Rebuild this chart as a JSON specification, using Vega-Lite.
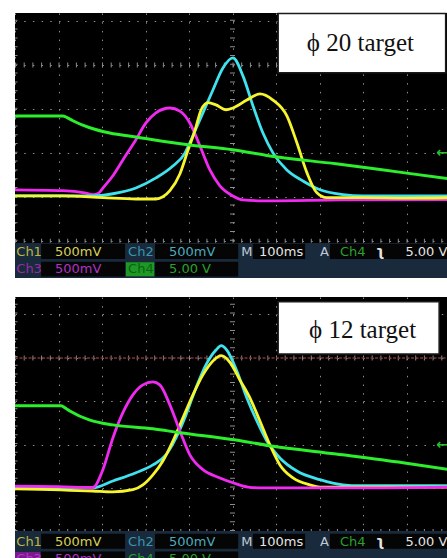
{
"$schema":"https://vega.github.io/schema/vega-lite/v6.json",
"background":"#ffffff",
"padding":{"left":12,"top":10,"right":0,"bottom":0},
"config":{"view":{"stroke":null},"axis":{"labels":false,"ticks":false,"domain":false,"grid":true,"gridColor":"#8c8c8c","gridDash":[1.5,7.2],"gridWidth":1,"minExtent":0,"maxExtent":0,"titlePadding":0}},
"datasets":{
"traces":[
{"panel":"top","ch":"Ch1","t":-500,"v":-2.98},{"panel":"top","ch":"Ch1","t":-390,"v":-2.98},{"panel":"top","ch":"Ch1","t":-298,"v":-3.02},{"panel":"top","ch":"Ch1","t":-222,"v":-3.05},{"panel":"top","ch":"Ch1","t":-176,"v":-3.05},{"panel":"top","ch":"Ch1","t":-160,"v":-3.0},{"panel":"top","ch":"Ch1","t":-144,"v":-2.86},{"panel":"top","ch":"Ch1","t":-121,"v":-2.48},{"panel":"top","ch":"Ch1","t":-102,"v":-1.93},{"panel":"top","ch":"Ch1","t":-86,"v":-1.48},{"panel":"top","ch":"Ch1","t":-72,"v":-1.02},{"panel":"top","ch":"Ch1","t":-56,"v":-0.86},{"panel":"top","ch":"Ch1","t":-38,"v":-0.91},{"panel":"top","ch":"Ch1","t":-15,"v":-1.02},{"panel":"top","ch":"Ch1","t":1,"v":-0.98},{"panel":"top","ch":"Ch1","t":33,"v":-0.8},{"panel":"top","ch":"Ch1","t":63,"v":-0.66},{"panel":"top","ch":"Ch1","t":93,"v":-0.8},{"panel":"top","ch":"Ch1","t":125,"v":-1.16},{"panel":"top","ch":"Ch1","t":148,"v":-1.77},{"panel":"top","ch":"Ch1","t":171,"v":-2.45},{"panel":"top","ch":"Ch1","t":194,"v":-2.91},{"panel":"top","ch":"Ch1","t":217,"v":-3.02},{"panel":"top","ch":"Ch1","t":300,"v":-3.02},{"panel":"top","ch":"Ch1","t":400,"v":-3.03},{"panel":"top","ch":"Ch1","t":500,"v":-3.02},
{"panel":"top","ch":"Ch2","t":-500,"v":-2.98},{"panel":"top","ch":"Ch2","t":-321,"v":-2.98},{"panel":"top","ch":"Ch2","t":-275,"v":-2.93},{"panel":"top","ch":"Ch2","t":-222,"v":-2.8},{"panel":"top","ch":"Ch2","t":-176,"v":-2.57},{"panel":"top","ch":"Ch2","t":-137,"v":-2.3},{"panel":"top","ch":"Ch2","t":-109,"v":-2.0},{"panel":"top","ch":"Ch2","t":-98,"v":-1.77},{"panel":"top","ch":"Ch2","t":-84,"v":-1.45},{"panel":"top","ch":"Ch2","t":-68,"v":-1.09},{"panel":"top","ch":"Ch2","t":-45,"v":-0.57},{"panel":"top","ch":"Ch2","t":-22,"v":-0.07},{"panel":"top","ch":"Ch2","t":1,"v":0.16},{"panel":"top","ch":"Ch2","t":24,"v":-0.25},{"panel":"top","ch":"Ch2","t":47,"v":-0.93},{"panel":"top","ch":"Ch2","t":70,"v":-1.55},{"panel":"top","ch":"Ch2","t":93,"v":-2.0},{"panel":"top","ch":"Ch2","t":125,"v":-2.39},{"panel":"top","ch":"Ch2","t":162,"v":-2.64},{"panel":"top","ch":"Ch2","t":201,"v":-2.84},{"panel":"top","ch":"Ch2","t":254,"v":-2.95},{"panel":"top","ch":"Ch2","t":300,"v":-2.98},{"panel":"top","ch":"Ch2","t":500,"v":-2.98},
{"panel":"top","ch":"Ch3","t":-500,"v":-2.84},{"panel":"top","ch":"Ch3","t":-390,"v":-2.86},{"panel":"top","ch":"Ch3","t":-340,"v":-2.91},{"panel":"top","ch":"Ch3","t":-321,"v":-2.95},{"panel":"top","ch":"Ch3","t":-308,"v":-2.92},{"panel":"top","ch":"Ch3","t":-298,"v":-2.8},{"panel":"top","ch":"Ch3","t":-275,"v":-2.52},{"panel":"top","ch":"Ch3","t":-252,"v":-2.16},{"panel":"top","ch":"Ch3","t":-222,"v":-1.7},{"panel":"top","ch":"Ch3","t":-199,"v":-1.32},{"panel":"top","ch":"Ch3","t":-176,"v":-1.09},{"panel":"top","ch":"Ch3","t":-144,"v":-0.98},{"panel":"top","ch":"Ch3","t":-121,"v":-1.05},{"panel":"top","ch":"Ch3","t":-98,"v":-1.32},{"panel":"top","ch":"Ch3","t":-75,"v":-1.84},{"panel":"top","ch":"Ch3","t":-52,"v":-2.39},{"panel":"top","ch":"Ch3","t":-29,"v":-2.75},{"panel":"top","ch":"Ch3","t":1,"v":-2.98},{"panel":"top","ch":"Ch3","t":24,"v":-3.07},{"panel":"top","ch":"Ch3","t":70,"v":-3.09},{"panel":"top","ch":"Ch3","t":250,"v":-3.07},{"panel":"top","ch":"Ch3","t":500,"v":-3.06},
{"panel":"top","ch":"Ch4","t":-500,"v":-1.16},{"panel":"top","ch":"Ch4","t":-390,"v":-1.16},{"panel":"top","ch":"Ch4","t":-380,"v":-1.2},{"panel":"top","ch":"Ch4","t":-367,"v":-1.27},{"panel":"top","ch":"Ch4","t":-328,"v":-1.43},{"panel":"top","ch":"Ch4","t":-282,"v":-1.55},{"panel":"top","ch":"Ch4","t":-222,"v":-1.64},{"panel":"top","ch":"Ch4","t":-98,"v":-1.82},{"panel":"top","ch":"Ch4","t":0,"v":-1.93},{"panel":"top","ch":"Ch4","t":86,"v":-2.07},{"panel":"top","ch":"Ch4","t":238,"v":-2.25},{"panel":"top","ch":"Ch4","t":392,"v":-2.45},{"panel":"top","ch":"Ch4","t":500,"v":-2.59},
{"panel":"bottom","ch":"Ch1","t":-500,"v":-3.01},{"panel":"bottom","ch":"Ch1","t":-321,"v":-3.06},{"panel":"bottom","ch":"Ch1","t":-275,"v":-3.08},{"panel":"bottom","ch":"Ch1","t":-229,"v":-3.03},{"panel":"bottom","ch":"Ch1","t":-206,"v":-2.92},{"panel":"bottom","ch":"Ch1","t":-183,"v":-2.69},{"panel":"bottom","ch":"Ch1","t":-160,"v":-2.37},{"panel":"bottom","ch":"Ch1","t":-137,"v":-1.91},{"panel":"bottom","ch":"Ch1","t":-114,"v":-1.38},{"panel":"bottom","ch":"Ch1","t":-91,"v":-0.85},{"panel":"bottom","ch":"Ch1","t":-68,"v":-0.39},{"panel":"bottom","ch":"Ch1","t":-45,"v":-0.07},{"panel":"bottom","ch":"Ch1","t":-26,"v":0.05},{"panel":"bottom","ch":"Ch1","t":-6,"v":-0.1},{"panel":"bottom","ch":"Ch1","t":17,"v":-0.51},{"panel":"bottom","ch":"Ch1","t":40,"v":-0.92},{"panel":"bottom","ch":"Ch1","t":63,"v":-1.45},{"panel":"bottom","ch":"Ch1","t":86,"v":-2.0},{"panel":"bottom","ch":"Ch1","t":109,"v":-2.46},{"panel":"bottom","ch":"Ch1","t":139,"v":-2.76},{"panel":"bottom","ch":"Ch1","t":178,"v":-2.92},{"panel":"bottom","ch":"Ch1","t":201,"v":-2.97},{"panel":"bottom","ch":"Ch1","t":500,"v":-2.97},
{"panel":"bottom","ch":"Ch2","t":-500,"v":-2.97},{"panel":"bottom","ch":"Ch2","t":-321,"v":-2.99},{"panel":"bottom","ch":"Ch2","t":-275,"v":-2.83},{"panel":"bottom","ch":"Ch2","t":-222,"v":-2.64},{"panel":"bottom","ch":"Ch2","t":-183,"v":-2.46},{"panel":"bottom","ch":"Ch2","t":-153,"v":-2.23},{"panel":"bottom","ch":"Ch2","t":-130,"v":-1.84},{"panel":"bottom","ch":"Ch2","t":-107,"v":-1.31},{"panel":"bottom","ch":"Ch2","t":-84,"v":-0.69},{"panel":"bottom","ch":"Ch2","t":-61,"v":-0.16},{"panel":"bottom","ch":"Ch2","t":-38,"v":0.18},{"panel":"bottom","ch":"Ch2","t":-26,"v":0.28},{"panel":"bottom","ch":"Ch2","t":-13,"v":0.18},{"panel":"bottom","ch":"Ch2","t":10,"v":-0.3},{"panel":"bottom","ch":"Ch2","t":33,"v":-0.92},{"panel":"bottom","ch":"Ch2","t":56,"v":-1.45},{"panel":"bottom","ch":"Ch2","t":79,"v":-1.91},{"panel":"bottom","ch":"Ch2","t":109,"v":-2.3},{"panel":"bottom","ch":"Ch2","t":148,"v":-2.6},{"panel":"bottom","ch":"Ch2","t":201,"v":-2.8},{"panel":"bottom","ch":"Ch2","t":254,"v":-2.92},{"panel":"bottom","ch":"Ch2","t":293,"v":-2.94},{"panel":"bottom","ch":"Ch2","t":500,"v":-2.94},
{"panel":"bottom","ch":"Ch3","t":-500,"v":-2.95},{"panel":"bottom","ch":"Ch3","t":-400,"v":-2.96},{"panel":"bottom","ch":"Ch3","t":-321,"v":-2.98},{"panel":"bottom","ch":"Ch3","t":-298,"v":-2.57},{"panel":"bottom","ch":"Ch3","t":-275,"v":-1.84},{"panel":"bottom","ch":"Ch3","t":-252,"v":-1.26},{"panel":"bottom","ch":"Ch3","t":-229,"v":-0.85},{"panel":"bottom","ch":"Ch3","t":-206,"v":-0.62},{"panel":"bottom","ch":"Ch3","t":-183,"v":-0.55},{"panel":"bottom","ch":"Ch3","t":-167,"v":-0.62},{"panel":"bottom","ch":"Ch3","t":-144,"v":-1.08},{"panel":"bottom","ch":"Ch3","t":-121,"v":-1.68},{"panel":"bottom","ch":"Ch3","t":-98,"v":-2.23},{"panel":"bottom","ch":"Ch3","t":-68,"v":-2.57},{"panel":"bottom","ch":"Ch3","t":-29,"v":-2.76},{"panel":"bottom","ch":"Ch3","t":1,"v":-2.87},{"panel":"bottom","ch":"Ch3","t":36,"v":-2.97},{"panel":"bottom","ch":"Ch3","t":70,"v":-2.99},{"panel":"bottom","ch":"Ch3","t":300,"v":-2.99},{"panel":"bottom","ch":"Ch3","t":500,"v":-2.97},
{"panel":"bottom","ch":"Ch4","t":-500,"v":-1.1},{"panel":"bottom","ch":"Ch4","t":-394,"v":-1.1},{"panel":"bottom","ch":"Ch4","t":-385,"v":-1.15},{"panel":"bottom","ch":"Ch4","t":-374,"v":-1.22},{"panel":"bottom","ch":"Ch4","t":-328,"v":-1.43},{"panel":"bottom","ch":"Ch4","t":-275,"v":-1.54},{"panel":"bottom","ch":"Ch4","t":-183,"v":-1.63},{"panel":"bottom","ch":"Ch4","t":-121,"v":-1.72},{"panel":"bottom","ch":"Ch4","t":8,"v":-1.89},{"panel":"bottom","ch":"Ch4","t":86,"v":-2.02},{"panel":"bottom","ch":"Ch4","t":238,"v":-2.21},{"panel":"bottom","ch":"Ch4","t":392,"v":-2.41},{"panel":"bottom","ch":"Ch4","t":500,"v":-2.57}
],
"labels":[{"panel":"top","label":"ϕ 20 target"},{"panel":"bottom","label":"ϕ 12 target"}],
"readouts":[
{"panel":"top","item":"ch1","label":"Ch1","setting":"500mV"},
{"panel":"top","item":"ch2","label":"Ch2","setting":"500mV"},
{"panel":"top","item":"ch3","label":"Ch3","setting":"500mV"},
{"panel":"top","item":"ch4","label":"Ch4","setting":"5.00 V"},
{"panel":"top","item":"time","label":"M","setting":"100ms"},
{"panel":"top","item":"trig","label":"A","source":"Ch4","slope":"ʅ","setting":"5.00 V"},
{"panel":"bottom","item":"ch1","label":"Ch1","setting":"500mV"},
{"panel":"bottom","item":"ch2","label":"Ch2","setting":"500mV"},
{"panel":"bottom","item":"ch3","label":"Ch3","setting":"500mV"},
{"panel":"bottom","item":"ch4","label":"Ch4","setting":"5.00 V"},
{"panel":"bottom","item":"time","label":"M","setting":"100ms"},
{"panel":"bottom","item":"trig","label":"A","source":"Ch4","slope":"ʅ","setting":"5.00 V"}
]
},
"spacing":0,
"bounds":"flush",
"resolve":{"scale":{"x":"independent","y":"independent","color":"shared"}},
"vconcat":[
{"width":435,"height":230,"view":{"fill":"#000000","stroke":null},
"layer":[
{"data":{"name":"labels"},"transform":[{"filter":"datum.panel==='top'"}],"mark":{"type":"rule","color":"#8c8c8c","strokeWidth":5,"strokeDash":[1,7.7]},
"encoding":{"x":{"datum":-500,"type":"quantitative","scale":{"domain":[-500,500],"nice":false,"zero":false},"axis":{"title":null,"values":[-500,-400,-300,-200,-100,0,100,200,300,400,500]}},"x2":{"datum":500},
"y":{"datum":0,"type":"quantitative","scale":{"domain":[-4.05,1.18],"nice":false,"zero":false},"axis":{"title":null,"values":[-4,-3,-2,-1,0,1]}}}},
{"data":{"name":"labels"},"transform":[{"filter":"datum.panel==='top'"}],"mark":{"type":"rule","color":"#8c8c8c","strokeWidth":5,"strokeDash":[1,7.8]},
"encoding":{"x":{"datum":0,"type":"quantitative"},"y":{"datum":-4,"type":"quantitative"},"y2":{"datum":1.18}}},
{"data":{"name":"labels"},"transform":[{"filter":"datum.panel==='top'"}],"mark":{"type":"rule","color":"#8c8c8c","strokeWidth":4,"strokeDash":[1,7.7]},
"encoding":{"x":{"datum":-500,"type":"quantitative"},"x2":{"datum":500},"y":{"datum":-4,"type":"quantitative"}}},
{"data":{"name":"labels"},"transform":[{"filter":"datum.panel==='top'"}],"mark":{"type":"rule","color":"#8c8c8c","strokeWidth":5,"strokeDash":[1,7.8],"clip":true},
"encoding":{"x":{"datum":-500,"type":"quantitative"},"y":{"datum":-4,"type":"quantitative"},"y2":{"datum":1.18}}},
{"data":{"name":"traces"},"transform":[{"filter":"datum.panel==='top' && datum.ch==='Ch3'"}],"mark":{"type":"line","strokeWidth":2.8,"interpolate":"monotone","clip":true},
"encoding":{"x":{"field":"t","type":"quantitative","axis":{"title":null}},"y":{"field":"v","type":"quantitative","axis":{"title":null}},"color":{"field":"ch","type":"nominal","scale":{"domain":["Ch1","Ch2","Ch3","Ch4"],"range":["#f6f52e","#3fe2ee","#f02af0","#2cee2c"]},"legend":null}}},
{"data":{"name":"traces"},"transform":[{"filter":"datum.panel==='top' && datum.ch==='Ch2'"}],"mark":{"type":"line","strokeWidth":2.8,"interpolate":"monotone","clip":true},
"encoding":{"x":{"field":"t","type":"quantitative","axis":{"title":null}},"y":{"field":"v","type":"quantitative","axis":{"title":null}},"color":{"field":"ch","type":"nominal","legend":null}}},
{"data":{"name":"traces"},"transform":[{"filter":"datum.panel==='top' && datum.ch==='Ch1'"}],"mark":{"type":"line","strokeWidth":2.8,"interpolate":"monotone","clip":true},
"encoding":{"x":{"field":"t","type":"quantitative","axis":{"title":null}},"y":{"field":"v","type":"quantitative","axis":{"title":null}},"color":{"field":"ch","type":"nominal","legend":null}}},
{"data":{"name":"traces"},"transform":[{"filter":"datum.panel==='top' && datum.ch==='Ch4'"}],"mark":{"type":"line","strokeWidth":3,"interpolate":"monotone","clip":true},
"encoding":{"x":{"field":"t","type":"quantitative","axis":{"title":null}},"y":{"field":"v","type":"quantitative","axis":{"title":null}},"color":{"field":"ch","type":"nominal","legend":null}}},
{"data":{"name":"labels"},"transform":[{"filter":"datum.panel==='top'"}],"mark":{"type":"text","font":"DejaVu Sans","fontSize":14,"fontWeight":"bold","color":"#2cc02c","align":"center","baseline":"middle"},
"encoding":{"x":{"datum":482,"type":"quantitative"},"y":{"datum":-2,"type":"quantitative"},"text":{"value":"←"}}},
{"data":{"name":"labels"},"transform":[{"filter":"datum.panel==='top'"}],"mark":{"type":"rect","fill":"#ffffff","stroke":"#1a1a1a","strokeWidth":1.5},
"encoding":{"x":{"datum":105,"type":"quantitative"},"x2":{"datum":490},"y":{"datum":1.17,"type":"quantitative"},"y2":{"datum":-0.18}}},
{"data":{"name":"labels"},"transform":[{"filter":"datum.panel==='top'"}],"mark":{"type":"text","font":"Liberation Serif","fontSize":25,"color":"#111111","align":"center","baseline":"alphabetic"},
"encoding":{"x":{"datum":294,"type":"quantitative"},"y":{"datum":0.32,"type":"quantitative"},"text":{"field":"label"}}}
]},
{"width":435,"height":54,"view":{"fill":"#ffffff","stroke":null},"data":{"name":"readouts"},
"layer":[
{"transform":[{"filter":"datum.panel==='top' && datum.item==='ch1'"}],"mark":{"type":"rect","color":"#182a3c"},"encoding":{"x":{"datum":-500,"type":"quantitative","scale":{"domain":[-500,500],"nice":false,"zero":false},"axis":null},"x2":{"datum":500},"y":{"datum":0,"type":"quantitative","scale":{"domain":[-1.086,2],"nice":false,"zero":false},"axis":null},"y2":{"datum":2}}},
{"transform":[{"filter":"datum.panel==='top' && datum.item==='ch1'"}],"mark":{"type":"rect","color":"#050505"},"encoding":{"x":{"datum":-440,"type":"quantitative","axis":null},"x2":{"datum":-247},"y":{"datum":1.08,"type":"quantitative","axis":null},"y2":{"datum":1.95}}},
{"transform":[{"filter":"datum.panel==='top' && datum.item==='ch2'"}],"mark":{"type":"rect","color":"#050505"},"encoding":{"x":{"datum":-178,"type":"quantitative","axis":null},"x2":{"datum":13},"y":{"datum":1.08,"type":"quantitative","axis":null},"y2":{"datum":1.95}}},
{"transform":[{"filter":"datum.panel==='top' && datum.item==='time'"}],"mark":{"type":"rect","color":"#050505"},"encoding":{"x":{"datum":47,"type":"quantitative","axis":null},"x2":{"datum":167},"y":{"datum":1.08,"type":"quantitative","axis":null},"y2":{"datum":1.95}}},
{"transform":[{"filter":"datum.panel==='top' && datum.item==='trig'"}],"mark":{"type":"rect","color":"#050505"},"encoding":{"x":{"datum":224,"type":"quantitative","axis":null},"x2":{"datum":500},"y":{"datum":1.08,"type":"quantitative","axis":null},"y2":{"datum":1.95}}},
{"transform":[{"filter":"datum.panel==='top' && datum.item==='ch3'"}],"mark":{"type":"rect","color":"#050505"},"encoding":{"x":{"datum":-440,"type":"quantitative","axis":null},"x2":{"datum":-247},"y":{"datum":0.08,"type":"quantitative","axis":null},"y2":{"datum":0.93}}},
{"transform":[{"filter":"datum.panel==='top' && datum.item==='ch4'"}],"mark":{"type":"rect","color":"#050505"},"encoding":{"x":{"datum":-178,"type":"quantitative","axis":null},"x2":{"datum":13},"y":{"datum":0.08,"type":"quantitative","axis":null},"y2":{"datum":0.93}}},
{"transform":[{"filter":"datum.panel==='top' && datum.item==='ch4'"}],"mark":{"type":"rect","color":"#1c9a24"},"encoding":{"x":{"datum":-245,"type":"quantitative","axis":null},"x2":{"datum":-180},"y":{"datum":0.1,"type":"quantitative","axis":null},"y2":{"datum":0.9}}},
{"transform":[{"filter":"datum.panel==='top' && datum.item==='ch1'"}],"mark":{"type":"text","align":"left","baseline":"middle","font":"DejaVu Sans","fontSize":13,"color":"#bdb743"},"encoding":{"x":{"datum":-497,"type":"quantitative","axis":null},"y":{"datum":1.5,"type":"quantitative","axis":null},"text":{"field":"label"}}},
{"transform":[{"filter":"datum.panel==='top' && datum.item==='ch1'"}],"mark":{"type":"text","align":"left","baseline":"middle","font":"DejaVu Sans","fontSize":13,"color":"#d6d05a"},"encoding":{"x":{"datum":-408,"type":"quantitative","axis":null},"y":{"datum":1.5,"type":"quantitative","axis":null},"text":{"field":"setting"}}},
{"transform":[{"filter":"datum.panel==='top' && datum.item==='ch2'"}],"mark":{"type":"text","align":"left","baseline":"middle","font":"DejaVu Sans","fontSize":13,"color":"#3a96ae"},"encoding":{"x":{"datum":-240,"type":"quantitative","axis":null},"y":{"datum":1.5,"type":"quantitative","axis":null},"text":{"field":"label"}}},
{"transform":[{"filter":"datum.panel==='top' && datum.item==='ch2'"}],"mark":{"type":"text","align":"left","baseline":"middle","font":"DejaVu Sans","fontSize":13,"color":"#4eaabd"},"encoding":{"x":{"datum":-146,"type":"quantitative","axis":null},"y":{"datum":1.5,"type":"quantitative","axis":null},"text":{"field":"setting"}}},
{"transform":[{"filter":"datum.panel==='top' && datum.item==='time'"}],"mark":{"type":"text","align":"left","baseline":"middle","font":"DejaVu Sans","fontSize":13,"color":"#c3cad2"},"encoding":{"x":{"datum":20,"type":"quantitative","axis":null},"y":{"datum":1.5,"type":"quantitative","axis":null},"text":{"field":"label"}}},
{"transform":[{"filter":"datum.panel==='top' && datum.item==='time'"}],"mark":{"type":"text","align":"left","baseline":"middle","font":"DejaVu Sans","fontSize":13,"color":"#e4e4e4"},"encoding":{"x":{"datum":61,"type":"quantitative","axis":null},"y":{"datum":1.5,"type":"quantitative","axis":null},"text":{"field":"setting"}}},
{"transform":[{"filter":"datum.panel==='top' && datum.item==='trig'"}],"mark":{"type":"text","align":"left","baseline":"middle","font":"DejaVu Sans","fontSize":13,"color":"#c3cad2"},"encoding":{"x":{"datum":201,"type":"quantitative","axis":null},"y":{"datum":1.5,"type":"quantitative","axis":null},"text":{"field":"label"}}},
{"transform":[{"filter":"datum.panel==='top' && datum.item==='trig'"}],"mark":{"type":"text","align":"left","baseline":"middle","font":"DejaVu Sans","fontSize":13,"color":"#2ca02c"},"encoding":{"x":{"datum":247,"type":"quantitative","axis":null},"y":{"datum":1.5,"type":"quantitative","axis":null},"text":{"field":"source"}}},
{"transform":[{"filter":"datum.panel==='top' && datum.item==='trig'"}],"mark":{"type":"text","align":"left","baseline":"middle","font":"DejaVu Sans","fontSize":14,"fontWeight":"bold","color":"#e4e4e4"},"encoding":{"x":{"datum":330,"type":"quantitative","axis":null},"y":{"datum":1.5,"type":"quantitative","axis":null},"text":{"field":"slope"}}},
{"transform":[{"filter":"datum.panel==='top' && datum.item==='trig'"}],"mark":{"type":"text","align":"right","baseline":"middle","font":"DejaVu Sans","fontSize":13,"color":"#e4e4e4"},"encoding":{"x":{"datum":494,"type":"quantitative","axis":null},"y":{"datum":1.5,"type":"quantitative","axis":null},"text":{"field":"setting"}}},
{"transform":[{"filter":"datum.panel==='top' && datum.item==='ch3'"}],"mark":{"type":"text","align":"left","baseline":"middle","font":"DejaVu Sans","fontSize":13,"color":"#9a2aa8"},"encoding":{"x":{"datum":-497,"type":"quantitative","axis":null},"y":{"datum":0.5,"type":"quantitative","axis":null},"text":{"field":"label"}}},
{"transform":[{"filter":"datum.panel==='top' && datum.item==='ch3'"}],"mark":{"type":"text","align":"left","baseline":"middle","font":"DejaVu Sans","fontSize":13,"color":"#b232c2"},"encoding":{"x":{"datum":-408,"type":"quantitative","axis":null},"y":{"datum":0.5,"type":"quantitative","axis":null},"text":{"field":"setting"}}},
{"transform":[{"filter":"datum.panel==='top' && datum.item==='ch4'"}],"mark":{"type":"text","align":"left","baseline":"middle","font":"DejaVu Sans","fontSize":13,"color":"#0e5e16"},"encoding":{"x":{"datum":-240,"type":"quantitative","axis":null},"y":{"datum":0.5,"type":"quantitative","axis":null},"text":{"field":"label"}}},
{"transform":[{"filter":"datum.panel==='top' && datum.item==='ch4'"}],"mark":{"type":"text","align":"left","baseline":"middle","font":"DejaVu Sans","fontSize":13,"color":"#2ca02c"},"encoding":{"x":{"datum":-146,"type":"quantitative","axis":null},"y":{"datum":0.5,"type":"quantitative","axis":null},"text":{"field":"setting"}}}
]},
{"width":435,"height":234,"view":{"fill":"#000000","stroke":null},
"layer":[
{"data":{"name":"labels"},"transform":[{"filter":"datum.panel==='bottom'"}],"mark":{"type":"rule","color":"#8c8c8c","strokeWidth":5,"strokeDash":[1,7.7]},
"encoding":{"x":{"datum":-500,"type":"quantitative","scale":{"domain":[-500,500],"nice":false,"zero":false},"axis":{"title":null,"values":[-500,-400,-300,-200,-100,0,100,200,300,400,500]}},"x2":{"datum":500},
"y":{"datum":0,"type":"quantitative","scale":{"domain":[-3.98,1.4],"nice":false,"zero":false},"axis":{"title":null,"values":[-3,-2,-1,0,1]}}}},
{"data":{"name":"labels"},"transform":[{"filter":"datum.panel==='bottom'"}],"mark":{"type":"rule","color":"#8c8c8c","strokeWidth":5,"strokeDash":[1,7.7]},
"encoding":{"x":{"datum":0,"type":"quantitative"},"y":{"datum":-3.98,"type":"quantitative"},"y2":{"datum":1.4}}},
{"data":{"name":"labels"},"transform":[{"filter":"datum.panel==='bottom'"}],"mark":{"type":"rule","color":"#8c8c8c","strokeWidth":4,"strokeDash":[1,7.7],"clip":true},
"encoding":{"x":{"datum":-500,"type":"quantitative"},"x2":{"datum":500},"y":{"datum":-3.98,"type":"quantitative"}}},
{"data":{"name":"labels"},"transform":[{"filter":"datum.panel==='bottom'"}],"mark":{"type":"rule","color":"#8c8c8c","strokeWidth":5,"strokeDash":[1,7.7],"clip":true},
"encoding":{"x":{"datum":-500,"type":"quantitative"},"y":{"datum":-3.98,"type":"quantitative"},"y2":{"datum":1.4}}},
{"data":{"name":"labels"},"transform":[{"filter":"datum.panel==='bottom'"}],"mark":{"type":"rule","color":"#7a3434","strokeWidth":1.5,"strokeDash":[3,1.5]},
"encoding":{"x":{"datum":-500,"type":"quantitative"},"x2":{"datum":500},"y":{"datum":0,"type":"quantitative"}}},
{"data":{"name":"traces"},"transform":[{"filter":"datum.panel==='bottom' && datum.ch==='Ch2'"}],"mark":{"type":"line","strokeWidth":2.8,"interpolate":"monotone","clip":true},
"encoding":{"x":{"field":"t","type":"quantitative","axis":{"title":null}},"y":{"field":"v","type":"quantitative","axis":{"title":null}},"color":{"field":"ch","type":"nominal","scale":{"domain":["Ch1","Ch2","Ch3","Ch4"],"range":["#f6f52e","#3fe2ee","#f02af0","#2cee2c"]},"legend":null}}},
{"data":{"name":"traces"},"transform":[{"filter":"datum.panel==='bottom' && datum.ch==='Ch1'"}],"mark":{"type":"line","strokeWidth":2.8,"interpolate":"monotone","clip":true},
"encoding":{"x":{"field":"t","type":"quantitative","axis":{"title":null}},"y":{"field":"v","type":"quantitative","axis":{"title":null}},"color":{"field":"ch","type":"nominal","legend":null}}},
{"data":{"name":"traces"},"transform":[{"filter":"datum.panel==='bottom' && datum.ch==='Ch3'"}],"mark":{"type":"line","strokeWidth":2.8,"interpolate":"monotone","clip":true},
"encoding":{"x":{"field":"t","type":"quantitative","axis":{"title":null}},"y":{"field":"v","type":"quantitative","axis":{"title":null}},"color":{"field":"ch","type":"nominal","legend":null}}},
{"data":{"name":"traces"},"transform":[{"filter":"datum.panel==='bottom' && datum.ch==='Ch4'"}],"mark":{"type":"line","strokeWidth":3,"interpolate":"monotone","clip":true},
"encoding":{"x":{"field":"t","type":"quantitative","axis":{"title":null}},"y":{"field":"v","type":"quantitative","axis":{"title":null}},"color":{"field":"ch","type":"nominal","legend":null}}},
{"data":{"name":"labels"},"transform":[{"filter":"datum.panel==='bottom'"}],"mark":{"type":"text","font":"DejaVu Sans","fontSize":14,"fontWeight":"bold","color":"#2cc02c","align":"center","baseline":"middle"},
"encoding":{"x":{"datum":482,"type":"quantitative"},"y":{"datum":-2,"type":"quantitative"},"text":{"value":"←"}}},
{"data":{"name":"labels"},"transform":[{"filter":"datum.panel==='bottom'"}],"mark":{"type":"rect","fill":"#ffffff","stroke":"#1a1a1a","strokeWidth":1.5},
"encoding":{"x":{"datum":105,"type":"quantitative"},"x2":{"datum":475},"y":{"datum":1.29,"type":"quantitative"},"y2":{"datum":0.09}}},
{"data":{"name":"labels"},"transform":[{"filter":"datum.panel==='bottom'"}],"mark":{"type":"text","font":"Liberation Serif","fontSize":25,"color":"#111111","align":"center","baseline":"alphabetic"},
"encoding":{"x":{"datum":299,"type":"quantitative"},"y":{"datum":0.46,"type":"quantitative"},"text":{"field":"label"}}}
]},
{"width":435,"height":30,"view":{"fill":"#182a3c","stroke":null},"data":{"name":"readouts"},
"layer":[
{"transform":[{"filter":"datum.panel==='bottom' && datum.item==='ch1'"}],"mark":{"type":"rect","color":"#050505"},"encoding":{"x":{"datum":-440,"type":"quantitative","scale":{"domain":[-500,500],"nice":false,"zero":false},"axis":null},"x2":{"datum":-247},"y":{"datum":1.08,"type":"quantitative","scale":{"domain":[0.386,2.1],"nice":false,"zero":false},"axis":null},"y2":{"datum":1.95}}},
{"transform":[{"filter":"datum.panel==='bottom' && datum.item==='ch2'"}],"mark":{"type":"rect","color":"#050505"},"encoding":{"x":{"datum":-178,"type":"quantitative","axis":null},"x2":{"datum":13},"y":{"datum":1.08,"type":"quantitative","axis":null},"y2":{"datum":1.95}}},
{"transform":[{"filter":"datum.panel==='bottom' && datum.item==='time'"}],"mark":{"type":"rect","color":"#050505"},"encoding":{"x":{"datum":47,"type":"quantitative","axis":null},"x2":{"datum":167},"y":{"datum":1.08,"type":"quantitative","axis":null},"y2":{"datum":1.95}}},
{"transform":[{"filter":"datum.panel==='bottom' && datum.item==='trig'"}],"mark":{"type":"rect","color":"#050505"},"encoding":{"x":{"datum":224,"type":"quantitative","axis":null},"x2":{"datum":500},"y":{"datum":1.08,"type":"quantitative","axis":null},"y2":{"datum":1.95}}},
{"transform":[{"filter":"datum.panel==='bottom' && datum.item==='ch3'"}],"mark":{"type":"rect","color":"#050505","clip":true},"encoding":{"x":{"datum":-440,"type":"quantitative","axis":null},"x2":{"datum":-247},"y":{"datum":0.08,"type":"quantitative","axis":null},"y2":{"datum":0.93}}},
{"transform":[{"filter":"datum.panel==='bottom' && datum.item==='ch4'"}],"mark":{"type":"rect","color":"#050505","clip":true},"encoding":{"x":{"datum":-178,"type":"quantitative","axis":null},"x2":{"datum":13},"y":{"datum":0.08,"type":"quantitative","axis":null},"y2":{"datum":0.93}}},
{"transform":[{"filter":"datum.panel==='bottom' && datum.item==='ch3'"}],"mark":{"type":"rect","color":"#7a1a8c","clip":true},"encoding":{"x":{"datum":-500,"type":"quantitative","axis":null},"x2":{"datum":-442},"y":{"datum":0.1,"type":"quantitative","axis":null},"y2":{"datum":0.9}}},
{"transform":[{"filter":"datum.panel==='bottom' && datum.item==='ch1'"}],"mark":{"type":"text","align":"left","baseline":"middle","font":"DejaVu Sans","fontSize":13,"color":"#bdb743"},"encoding":{"x":{"datum":-497,"type":"quantitative","axis":null},"y":{"datum":1.5,"type":"quantitative","axis":null},"text":{"field":"label"}}},
{"transform":[{"filter":"datum.panel==='bottom' && datum.item==='ch1'"}],"mark":{"type":"text","align":"left","baseline":"middle","font":"DejaVu Sans","fontSize":13,"color":"#d6d05a"},"encoding":{"x":{"datum":-408,"type":"quantitative","axis":null},"y":{"datum":1.5,"type":"quantitative","axis":null},"text":{"field":"setting"}}},
{"transform":[{"filter":"datum.panel==='bottom' && datum.item==='ch2'"}],"mark":{"type":"text","align":"left","baseline":"middle","font":"DejaVu Sans","fontSize":13,"color":"#3a96ae"},"encoding":{"x":{"datum":-240,"type":"quantitative","axis":null},"y":{"datum":1.5,"type":"quantitative","axis":null},"text":{"field":"label"}}},
{"transform":[{"filter":"datum.panel==='bottom' && datum.item==='ch2'"}],"mark":{"type":"text","align":"left","baseline":"middle","font":"DejaVu Sans","fontSize":13,"color":"#4eaabd"},"encoding":{"x":{"datum":-146,"type":"quantitative","axis":null},"y":{"datum":1.5,"type":"quantitative","axis":null},"text":{"field":"setting"}}},
{"transform":[{"filter":"datum.panel==='bottom' && datum.item==='time'"}],"mark":{"type":"text","align":"left","baseline":"middle","font":"DejaVu Sans","fontSize":13,"color":"#c3cad2"},"encoding":{"x":{"datum":20,"type":"quantitative","axis":null},"y":{"datum":1.5,"type":"quantitative","axis":null},"text":{"field":"label"}}},
{"transform":[{"filter":"datum.panel==='bottom' && datum.item==='time'"}],"mark":{"type":"text","align":"left","baseline":"middle","font":"DejaVu Sans","fontSize":13,"color":"#e4e4e4"},"encoding":{"x":{"datum":61,"type":"quantitative","axis":null},"y":{"datum":1.5,"type":"quantitative","axis":null},"text":{"field":"setting"}}},
{"transform":[{"filter":"datum.panel==='bottom' && datum.item==='trig'"}],"mark":{"type":"text","align":"left","baseline":"middle","font":"DejaVu Sans","fontSize":13,"color":"#c3cad2"},"encoding":{"x":{"datum":201,"type":"quantitative","axis":null},"y":{"datum":1.5,"type":"quantitative","axis":null},"text":{"field":"label"}}},
{"transform":[{"filter":"datum.panel==='bottom' && datum.item==='trig'"}],"mark":{"type":"text","align":"left","baseline":"middle","font":"DejaVu Sans","fontSize":13,"color":"#2ca02c"},"encoding":{"x":{"datum":247,"type":"quantitative","axis":null},"y":{"datum":1.5,"type":"quantitative","axis":null},"text":{"field":"source"}}},
{"transform":[{"filter":"datum.panel==='bottom' && datum.item==='trig'"}],"mark":{"type":"text","align":"left","baseline":"middle","font":"DejaVu Sans","fontSize":14,"fontWeight":"bold","color":"#e4e4e4"},"encoding":{"x":{"datum":330,"type":"quantitative","axis":null},"y":{"datum":1.5,"type":"quantitative","axis":null},"text":{"field":"slope"}}},
{"transform":[{"filter":"datum.panel==='bottom' && datum.item==='trig'"}],"mark":{"type":"text","align":"right","baseline":"middle","font":"DejaVu Sans","fontSize":13,"color":"#e4e4e4"},"encoding":{"x":{"datum":494,"type":"quantitative","axis":null},"y":{"datum":1.5,"type":"quantitative","axis":null},"text":{"field":"setting"}}},
{"transform":[{"filter":"datum.panel==='bottom' && datum.item==='ch3'"}],"mark":{"type":"text","align":"left","baseline":"middle","font":"DejaVu Sans","fontSize":13,"color":"#b23ac4"},"encoding":{"x":{"datum":-497,"type":"quantitative","axis":null},"y":{"datum":0.5,"type":"quantitative","axis":null},"text":{"field":"label"}}},
{"transform":[{"filter":"datum.panel==='bottom' && datum.item==='ch3'"}],"mark":{"type":"text","align":"left","baseline":"middle","font":"DejaVu Sans","fontSize":13,"color":"#b232c2"},"encoding":{"x":{"datum":-408,"type":"quantitative","axis":null},"y":{"datum":0.5,"type":"quantitative","axis":null},"text":{"field":"setting"}}},
{"transform":[{"filter":"datum.panel==='bottom' && datum.item==='ch4'"}],"mark":{"type":"text","align":"left","baseline":"middle","font":"DejaVu Sans","fontSize":13,"color":"#2ca02c"},"encoding":{"x":{"datum":-240,"type":"quantitative","axis":null},"y":{"datum":0.5,"type":"quantitative","axis":null},"text":{"field":"label"}}},
{"transform":[{"filter":"datum.panel==='bottom' && datum.item==='ch4'"}],"mark":{"type":"text","align":"left","baseline":"middle","font":"DejaVu Sans","fontSize":13,"color":"#2ca02c"},"encoding":{"x":{"datum":-146,"type":"quantitative","axis":null},"y":{"datum":0.5,"type":"quantitative","axis":null},"text":{"field":"setting"}}}
]}
]
}
